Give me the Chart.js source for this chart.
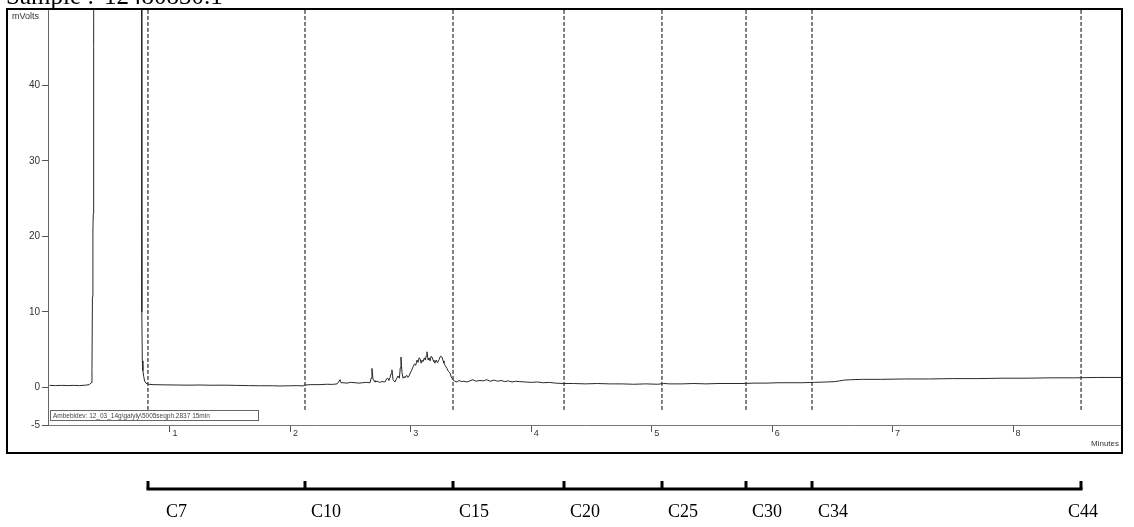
<!DOCTYPE html>
<html>
<head>
<meta charset="utf-8">
<script src="https://cdn.jsdelivr.net/npm/chart.js@4.4.1/dist/chart.umd.min.js"></script>
<style>
html,body{margin:0;padding:0;background:#fff;}
#wrap{width:1134px;height:527px;position:relative;}
</style>
</head>
<body>
<div id="wrap"><canvas id="c" width="1134" height="527"></canvas></div>
<script>
// ---- data ----
const titleLeft = "Sample :";
const titleRight = "12480830.1";
const yUnit = "mVolts";
const xUnit = "Minutes";
const legendText = "Ambebidev: 12_03_14g\\galyly\\5005seqph.2837 15min";

const times = [
 0.00,0.05,0.10,0.15,0.20,0.25,0.30,0.33,0.345,0.352,0.356,0.360,0.363,0.366,0.370,0.380,
 0.740,0.755,0.762,0.765,0.767,0.770,0.775,0.782,0.79,0.80,0.82,0.86,0.95,1.05,1.15,1.25,
 1.35,1.45,1.55,1.65,1.75,1.85,1.913,2.00,2.06,2.104,2.121,2.17,2.246,2.30,2.35,2.387,
 2.400,2.412,2.420,2.437,2.47,2.50,2.536,2.57,2.60,2.63,2.661,2.670,2.677,2.686,2.695,2.702,
 2.72,2.74,2.76,2.785,2.798,2.810,2.818,2.827,2.836,2.843,2.852,2.868,2.880,2.893,2.905,2.912,
 2.918,2.926,2.935,2.945,2.951,2.965,2.975,2.985,2.995,3.005,3.018,3.030,3.040,3.051,3.060,3.068,
 3.076,3.085,3.093,3.101,3.112,3.120,3.128,3.134,3.143,3.152,3.160,3.168,3.176,3.185,3.192,3.200,
 3.210,3.218,3.225,3.235,3.245,3.259,3.268,3.275,3.285,3.300,3.312,3.325,3.335,3.350,3.365,3.383,
 3.40,3.42,3.44,3.466,3.49,3.516,3.54,3.574,3.60,3.63,3.66,3.69,3.72,3.75,3.78,3.81,
 3.84,3.87,3.90,3.95,4.00,4.05,4.10,4.15,4.20,4.27,4.35,4.45,4.55,4.65,4.75,4.85,
 4.95,5.05,5.10,5.15,5.25,5.35,5.45,5.55,5.65,5.75,5.85,5.95,6.05,6.15,6.25,6.35,
 6.45,6.52,6.56,6.60,6.65,6.75,6.90,7.10,7.30,7.50,7.70,7.90,8.10,8.30,8.50,8.70,8.91
];
const signal = [
 0.25,0.22,0.25,0.22,0.25,0.22,0.28,0.35,0.6,2.5,12,21,23,45,120,400,
 400,250,80,30,10,3.5,2.2,1.4,0.8,0.55,0.4,0.35,0.32,0.3,0.28,0.3,
 0.27,0.28,0.25,0.22,0.2,0.2,0.17,0.2,0.22,0.18,0.3,0.35,0.35,0.4,0.38,0.45,
 0.7,1.0,0.6,0.6,0.55,0.65,0.6,0.55,0.6,0.65,0.6,1.2,2.5,1.0,0.9,0.7,
 0.8,0.65,0.75,0.7,1.1,1.2,0.9,1.3,1.8,2.3,1.0,0.7,1.1,1.5,1.2,2.6,
 4.0,2.0,1.2,1.4,1.3,1.6,1.3,1.5,1.9,2.2,2.7,3.1,2.9,3.6,3.3,3.9,
 3.8,3.2,3.6,3.4,3.9,3.6,4.2,4.7,3.6,3.9,3.5,4.1,4.0,3.6,3.4,3.2,
 3.6,3.3,3.4,3.7,4.1,4.0,3.5,3.2,2.9,2.5,2.1,1.9,1.4,1.0,0.8,0.7,
 0.9,0.75,0.8,0.7,0.85,1.0,0.8,0.9,0.85,1.0,0.8,0.95,0.8,0.9,0.75,0.85,
 0.7,0.8,0.75,0.7,0.65,0.7,0.6,0.65,0.55,0.5,0.5,0.45,0.5,0.45,0.45,0.4,
 0.45,0.4,0.5,0.45,0.45,0.5,0.45,0.5,0.5,0.5,0.55,0.55,0.6,0.6,0.6,0.65,
 0.7,0.75,0.85,0.95,1.0,1.05,1.05,1.1,1.1,1.15,1.15,1.2,1.2,1.25,1.25,1.3,1.3
];
const markerTimes = [0.817, 2.121, 3.350, 4.272, 5.085, 5.783, 6.331, 8.565];
const markerLabels = ["C7","C10","C15","C20","C25","C30","C34","C44"];
const xTickValues = [1,2,3,4,5,6,7,8];
const yTickValues = [-5,0,10,20,30,40];
const xRange = [-0.013, 8.905];
const yRange = [-5, 50];
const markerSpan = [-3, 50];

// ---- style (label placement relative to bracket ticks) ----
const labelShift = [18, 6, 6, 6, 6, 6, 6, -13];

// ---- build datasets ----
const datasets = [{
  data: times.map((t,i)=>({x:t, y:signal[i]})),
  borderColor:'#2a2a2a', borderWidth:1, pointRadius:0, tension:0
}];
markerTimes.forEach(t=>{
  datasets.push({
    data:[{x:t,y:markerSpan[0]},{x:t,y:markerSpan[1]}],
    borderColor:'#000', borderWidth:1, borderDash:[4,2], pointRadius:0
  });
});

const decor = {
  id:'decor',
  beforeDraw(chart){
    const ctx = chart.ctx;
    ctx.save(); ctx.fillStyle='#fff'; ctx.fillRect(0,0,chart.width,chart.height); ctx.restore();
  },
  afterDraw(chart){
    const ctx = chart.ctx, xs = chart.scales.x, ca = chart.chartArea;
    ctx.save();
    // outer frame
    ctx.strokeStyle='#000'; ctx.lineWidth=2;
    ctx.strokeRect(7, 9, ca.right-7, 444);
    // title (cut off by top edge)
    ctx.fillStyle='#000';
    ctx.font='25px "Liberation Serif"';
    ctx.textBaseline='alphabetic'; ctx.textAlign='left';
    ctx.fillText(titleLeft, 6, 4);
    ctx.fillText(titleRight, 104, 4);
    // units
    ctx.font='9px "Liberation Sans"'; ctx.fillStyle='#333';
    ctx.fillText(yUnit, 12, 19);
    ctx.textAlign='right';
    ctx.font='8px "Liberation Sans"';
    ctx.fillText(xUnit, ca.right-3, 446);
    // legend box
    ctx.textAlign='left';
    ctx.fillStyle='#fff'; ctx.fillRect(50, 410, 208, 10);
    ctx.strokeStyle='#666'; ctx.lineWidth=1; ctx.strokeRect(50.5, 410.5, 208, 10);
    ctx.fillStyle='#444'; ctx.font='6.5px "Liberation Sans"';
    ctx.fillText(legendText, 53, 418);
    // carbon-range bracket
    const px = markerTimes.map(t=>Math.round(xs.getPixelForValue(t)));
    const by = 489;
    ctx.strokeStyle='#000'; ctx.lineWidth=3; ctx.lineCap='butt';
    ctx.beginPath(); ctx.moveTo(px[0]-1.5, by); ctx.lineTo(px[px.length-1]+1.5, by); ctx.stroke();
    px.forEach(p=>{ ctx.beginPath(); ctx.moveTo(p, by); ctx.lineTo(p, 481); ctx.stroke(); });
    ctx.fillStyle='#000'; ctx.font='18px "Liberation Serif"';
    px.forEach((p,i)=>{ ctx.fillText(markerLabels[i], p+labelShift[i], 517); });
    ctx.restore();
  }
};

new Chart(document.getElementById('c'), {
  type:'line',
  data:{datasets},
  options:{
    responsive:false, animation:false, devicePixelRatio:1,
    layout:{padding:{left:0, top:10, right:12, bottom:0}},
    plugins:{legend:{display:false}, tooltip:{enabled:false}},
    scales:{
      x:{
        type:'linear', min:xRange[0], max:xRange[1],
        afterBuildTicks:s=>{ s.ticks = xTickValues.map(v=>({value:v})); },
        afterFit:s=>{ s.height = 102; },
        grid:{drawOnChartArea:false, drawTicks:true, tickLength:7, color:'#555', lineWidth:1},
        border:{color:'#777', width:1},
        ticks:{align:'start', padding:-4, color:'#333', font:{family:'Liberation Sans', size:9},
               maxRotation:0, autoSkip:false, callback:v=>' '+v}
      },
      y:{
        type:'linear', min:yRange[0], max:yRange[1],
        afterBuildTicks:s=>{ s.ticks = yTickValues.map(v=>({value:v})); },
        afterFit:s=>{ s.width = 48; },
        grid:{drawOnChartArea:false, drawTicks:true, tickLength:6, color:'#555', lineWidth:1},
        border:{color:'#666', width:1},
        ticks:{padding:2, color:'#333', font:{family:'Liberation Sans', size:10}, autoSkip:false}
      }
    }
  },
  plugins:[decor]
});
</script>
</body>
</html>
